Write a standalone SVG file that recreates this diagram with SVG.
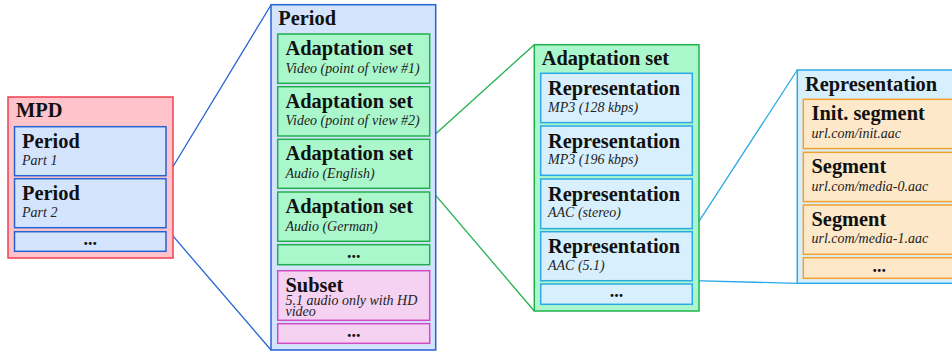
<svg xmlns="http://www.w3.org/2000/svg" width="952" height="353" viewBox="0 0 952 353">
<style>
text{font-family:"Liberation Serif","Times New Roman",serif;fill:#111}
.t{font-size:20.4px;font-weight:bold}
.s{font-size:14px;font-style:italic;fill:#222}
.d{font-size:18px;font-weight:bold;text-anchor:middle}
rect{stroke-width:1.5}
.mpd{fill:#ffc3cb;stroke:#f0404f}
.per{fill:#d4e4fc;stroke:#2563d3}
.as{fill:#aaf7cb;stroke:#22b04e}
.rep{fill:#d8f0fd;stroke:#2aa9e6}
.seg{fill:#fde8ca;stroke:#f3a12c}
.sub{fill:#f5d2f2;stroke:#d24bc6}
.c{fill:none;stroke-width:1.3}
</style>
<g id="connectors">
<line class="c" stroke="#2563d3" x1="165.8" y1="178.5" x2="271" y2="5"/>
<line class="c" stroke="#2563d3" x1="165.8" y1="227.7" x2="271" y2="350"/>
<line class="c" stroke="#22b04e" x1="429.7" y1="139.3" x2="534.3" y2="44.7"/>
<line class="c" stroke="#22b04e" x1="429.7" y1="188.3" x2="534.3" y2="311"/>
<line class="c" stroke="#2aa9e6" x1="692.3" y1="231.7" x2="797.3" y2="70"/>
<line class="c" stroke="#2aa9e6" x1="692.3" y1="280.7" x2="797.3" y2="283.3"/>
</g>
<g id="mpd">
<rect class="mpd" x="8" y="97" width="165" height="161"/>
<text class="t" x="16" y="117">MPD</text>
<g id="mpd-period1"><rect class="per" x="14.5" y="126.7" width="151.5" height="49"/><text class="t" x="22" y="147.5">Period</text><text class="s" x="22" y="165">Part 1</text></g>
<g id="mpd-period2"><rect class="per" x="14.5" y="178.7" width="151.5" height="49"/><text class="t" x="22" y="199.5">Period</text><text class="s" x="22" y="217">Part 2</text></g>
<g id="mpd-more"><rect class="per" x="14.5" y="231.7" width="151.5" height="19.6"/><text class="d" x="90.3" y="244.5">...</text></g>
</g>
<g id="period">
<rect class="per" x="271" y="4.7" width="164.7" height="345.3"/>
<text class="t" x="278.3" y="25">Period</text>
<g id="as1"><rect class="as" x="277.7" y="34" width="152" height="49.3"/><text class="t" x="285.5" y="55">Adaptation set</text><text class="s" x="285.5" y="72.7">Video (point of view #1)</text></g>
<g id="as2"><rect class="as" x="277.7" y="86.7" width="152" height="49.3"/><text class="t" x="285.5" y="107.7">Adaptation set</text><text class="s" x="285.5" y="125.4">Video (point of view #2)</text></g>
<g id="as3"><rect class="as" x="277.7" y="139.3" width="152" height="49"/><text class="t" x="285.5" y="160.3">Adaptation set</text><text class="s" x="285.5" y="178">Audio (English)</text></g>
<g id="as4"><rect class="as" x="277.7" y="192" width="152" height="49.3"/><text class="t" x="285.5" y="213">Adaptation set</text><text class="s" x="285.5" y="230.7">Audio (German)</text></g>
<g id="as-more"><rect class="as" x="277.7" y="244.7" width="152" height="20"/><text class="d" x="353.7" y="257.8">...</text></g>
<g id="subset"><rect class="sub" x="277.7" y="270.7" width="152" height="49.6"/><text class="t" x="285.5" y="291.5">Subset</text><text class="s" x="285.5" y="305">5.1 audio only with HD</text><text class="s" x="285.5" y="315.5">video</text></g>
<g id="subset-more"><rect class="sub" x="277.7" y="323.7" width="152" height="19.6"/><text class="d" x="353.7" y="336.5">...</text></g>
</g>
<g id="adaptation-set">
<rect class="as" x="534.3" y="44.7" width="164.7" height="266.3"/>
<text class="t" x="541.7" y="65">Adaptation set</text>
<g id="rep1"><rect class="rep" x="540.7" y="73.3" width="151.6" height="49.3"/><text class="t" x="548" y="95">Representation</text><text class="s" x="548" y="111.7">MP3 (128 kbps)</text></g>
<g id="rep2"><rect class="rep" x="540.7" y="126" width="151.6" height="49.3"/><text class="t" x="548" y="147.7">Representation</text><text class="s" x="548" y="164.4">MP3 (196 kbps)</text></g>
<g id="rep3"><rect class="rep" x="540.7" y="179" width="151.6" height="49.6"/><text class="t" x="548" y="200.7">Representation</text><text class="s" x="548" y="217.4">AAC (stereo)</text></g>
<g id="rep4"><rect class="rep" x="540.7" y="231.7" width="151.6" height="49"/><text class="t" x="548" y="253.4">Representation</text><text class="s" x="548" y="270.1">AAC (5.1)</text></g>
<g id="rep-more"><rect class="rep" x="540.7" y="284" width="151.6" height="20.3"/><text class="d" x="616.5" y="297.3">...</text></g>
</g>
<g id="representation">
<rect class="rep" x="797.3" y="70" width="165" height="213.3"/>
<text class="t" x="805" y="91">Representation</text>
<g id="seg-init"><rect class="seg" x="803.3" y="99.3" width="152" height="49.3"/><text class="t" x="811.5" y="120">Init. segment</text><text class="s" x="811.5" y="137.7">url.com/init.aac</text></g>
<g id="seg0"><rect class="seg" x="803.3" y="152.3" width="152" height="49.3"/><text class="t" x="811.5" y="173">Segment</text><text class="s" x="811.5" y="190.7">url.com/media-0.aac</text></g>
<g id="seg1"><rect class="seg" x="803.3" y="205" width="152" height="49.3"/><text class="t" x="811.5" y="225.7">Segment</text><text class="s" x="811.5" y="243.4">url.com/media-1.aac</text></g>
<g id="seg-more"><rect class="seg" x="803.3" y="257.7" width="152" height="20.6"/><text class="d" x="879.3" y="271.5">...</text></g>
</g>
</svg>
